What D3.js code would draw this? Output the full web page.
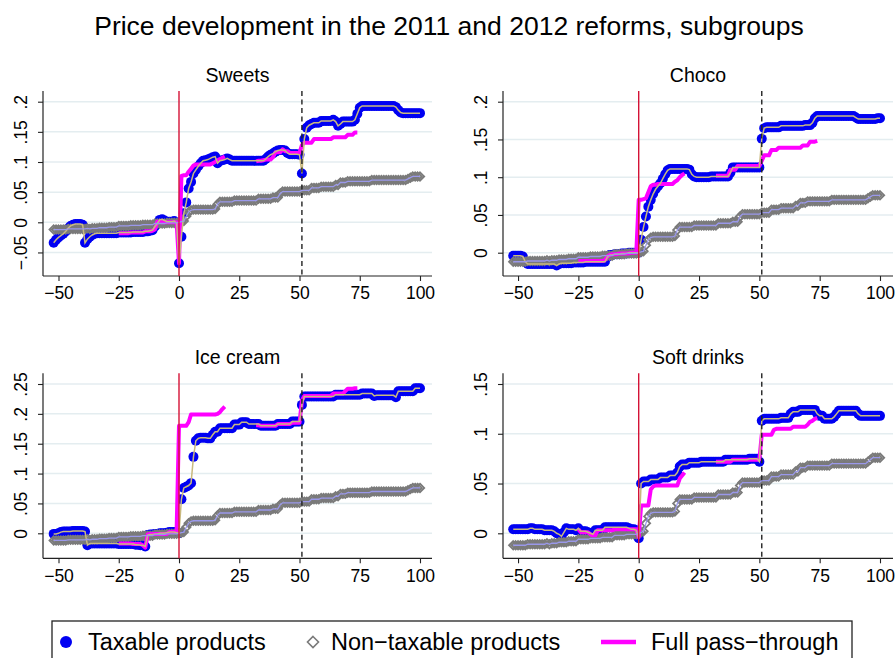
<!DOCTYPE html>
<html>
<head>
<meta charset="utf-8">
<script src="https://cdn.jsdelivr.net/npm/d3@7"></script>
<style>
  body { margin: 0; background: #fff; }
  svg { display: block; }
  text { font-family: "Liberation Sans", Arial, Helvetica, sans-serif; fill: #000; }
</style>
</head>
<body>
<svg id="chart" width="896" height="658"></svg>
<script>
// Weekly price changes (log points) relative to the week before the 2011 reform.
const firstWeek = -52;                 // first week of every series
const reformWeeks = [0, 51];           // 2011 reform (solid) and 2012 reform (dashed)
const passStartWeeks = [-25, 32];      // first week of each full pass-through window
const xTicks = [-50, -25, 0, 25, 50, 75, 100];

// Non-taxable products: the same control series in every panel, weeks -52..100
const nonTaxable = [
  -0.012,-0.012,-0.012,-0.012,-0.012,-0.012,-0.011,-0.011,-0.011,-0.011,
  -0.011,-0.011,-0.011,-0.011,-0.010,-0.011,-0.010,-0.010,-0.010,-0.009,
  -0.009,-0.009,-0.009,-0.008,-0.008,-0.008,-0.008,-0.006,-0.006,-0.006,
  -0.006,-0.006,-0.005,-0.005,-0.005,-0.005,-0.005,-0.004,-0.004,-0.004,
  -0.004,-0.004,-0.002,-0.002,-0.002,-0.002,-0.002,-0.001,-0.001,-0.001,
  -0.001,-0.001,0.000,0.001,0.002,0.010,0.017,0.020,0.021,0.021,
  0.021,0.021,0.021,0.021,0.021,0.021,0.021,0.022,0.030,0.034,
  0.034,0.034,0.034,0.034,0.034,0.036,0.036,0.036,0.036,0.036,
  0.036,0.036,0.036,0.036,0.036,0.039,0.039,0.039,0.039,0.039,
  0.039,0.041,0.041,0.041,0.048,0.051,0.051,0.051,0.051,0.051,
  0.051,0.051,0.051,0.053,0.053,0.053,0.053,0.057,0.057,0.057,
  0.057,0.059,0.059,0.059,0.059,0.059,0.059,0.062,0.062,0.066,
  0.066,0.066,0.068,0.068,0.068,0.068,0.068,0.068,0.068,0.068,
  0.068,0.068,0.070,0.070,0.070,0.070,0.070,0.070,0.070,0.070,
  0.070,0.070,0.070,0.070,0.070,0.070,0.070,0.072,0.074,0.076,
  0.076,0.076,0.076
];

// Taxable products, weeks -52..100
const sweetsTaxable = [
  -0.034,-0.029,-0.025,-0.022,-0.019,-0.015,-0.010,-0.006,-0.004,-0.003,
  -0.003,-0.003,-0.004,-0.034,-0.028,-0.024,-0.021,-0.019,-0.018,-0.018,
  -0.018,-0.018,-0.018,-0.018,-0.018,-0.018,-0.018,-0.017,-0.017,-0.017,
  -0.017,-0.017,-0.017,-0.016,-0.016,-0.016,-0.016,-0.016,-0.015,-0.015,
  -0.014,-0.013,-0.007,-0.002,0.004,0.005,0.003,0.001,0.001,0.001,
  0.002,-0.001,-0.068,-0.024,0.015,0.033,0.056,0.067,0.081,0.087,
  0.093,0.098,0.102,0.103,0.104,0.106,0.108,0.109,0.098,0.102,
  0.103,0.104,0.106,0.104,0.102,0.102,0.102,0.102,0.102,0.102,
  0.102,0.102,0.102,0.102,0.102,0.102,0.102,0.102,0.105,0.109,
  0.112,0.114,0.117,0.119,0.120,0.120,0.119,0.115,0.113,0.113,
  0.113,0.113,0.112,0.081,0.138,0.157,0.161,0.163,0.165,0.165,
  0.165,0.168,0.168,0.168,0.168,0.168,0.170,0.167,0.160,0.163,
  0.167,0.167,0.167,0.167,0.167,0.170,0.180,0.190,0.193,0.193,
  0.193,0.193,0.193,0.193,0.193,0.193,0.193,0.193,0.193,0.193,
  0.193,0.193,0.191,0.186,0.182,0.181,0.181,0.181,0.181,0.181,
  0.181,0.181,0.181
];
const chocoTaxable = [
  -0.004,-0.004,-0.004,-0.004,-0.005,-0.012,-0.015,-0.015,-0.015,-0.015,
  -0.015,-0.015,-0.015,-0.015,-0.015,-0.015,-0.015,-0.015,-0.017,-0.015,
  -0.014,-0.014,-0.014,-0.014,-0.014,-0.013,-0.013,-0.013,-0.013,-0.013,
  -0.012,-0.012,-0.012,-0.012,-0.012,-0.012,-0.012,-0.012,-0.012,-0.006,
  -0.003,-0.003,-0.002,-0.002,-0.002,-0.001,-0.001,-0.001,0.000,0.000,
  0.000,0.000,0.000,0.017,0.034,0.048,0.061,0.070,0.078,0.084,
  0.088,0.092,0.098,0.104,0.109,0.111,0.111,0.111,0.111,0.111,
  0.111,0.111,0.111,0.110,0.104,0.101,0.100,0.100,0.100,0.100,
  0.100,0.100,0.101,0.101,0.101,0.101,0.101,0.101,0.101,0.101,
  0.106,0.113,0.113,0.113,0.113,0.113,0.113,0.113,0.113,0.113,
  0.113,0.113,0.113,0.151,0.165,0.166,0.166,0.166,0.166,0.166,
  0.166,0.168,0.168,0.168,0.168,0.168,0.168,0.168,0.168,0.168,
  0.168,0.169,0.169,0.169,0.172,0.178,0.181,0.181,0.181,0.181,
  0.181,0.181,0.181,0.181,0.181,0.181,0.181,0.181,0.181,0.181,
  0.181,0.181,0.179,0.177,0.177,0.177,0.177,0.177,0.177,0.177,
  0.177,0.178,0.178
];
const iceTaxable = [
  -0.001,-0.001,0.000,0.002,0.003,0.003,0.003,0.003,0.004,0.004,
  0.004,0.004,0.004,0.003,-0.020,-0.017,-0.017,-0.017,-0.017,-0.017,
  -0.017,-0.017,-0.017,-0.017,-0.017,-0.017,-0.017,-0.018,-0.018,-0.018,
  -0.018,-0.018,-0.018,-0.018,-0.019,-0.019,-0.020,-0.020,-0.022,-0.003,
  -0.002,-0.002,-0.001,-0.001,0.000,0.000,0.000,0.001,0.002,0.002,
  0.002,0.001,0.000,0.057,0.076,0.078,0.080,0.084,0.128,0.155,
  0.159,0.160,0.160,0.160,0.159,0.159,0.165,0.170,0.170,0.176,
  0.176,0.176,0.176,0.176,0.176,0.182,0.182,0.182,0.186,0.186,
  0.186,0.183,0.183,0.183,0.183,0.183,0.180,0.180,0.180,0.180,
  0.180,0.180,0.180,0.183,0.183,0.183,0.183,0.183,0.183,0.187,
  0.187,0.187,0.187,0.215,0.229,0.229,0.229,0.229,0.229,0.229,
  0.229,0.229,0.229,0.229,0.229,0.229,0.229,0.232,0.232,0.232,
  0.232,0.232,0.232,0.232,0.232,0.232,0.232,0.232,0.234,0.234,
  0.234,0.234,0.234,0.230,0.231,0.231,0.231,0.231,0.231,0.231,
  0.231,0.231,0.228,0.238,0.238,0.238,0.238,0.238,0.238,0.238,
  0.243,0.243,0.243
];
const softTaxable = [
  0.004,0.004,0.004,0.004,0.004,0.004,0.004,0.005,0.005,0.004,
  0.004,0.004,0.004,0.003,0.003,0.003,0.003,0.002,0.000,-0.001,
  -0.003,0.001,0.005,0.004,0.004,0.004,0.003,0.005,0.002,0.002,
  0.002,0.001,0.000,-0.001,0.003,0.003,0.003,0.003,0.006,0.006,
  0.006,0.006,0.006,0.006,0.006,0.006,0.006,0.006,0.005,0.004,
  0.004,0.003,-0.005,0.050,0.052,0.052,0.052,0.054,0.054,0.054,
  0.054,0.056,0.056,0.056,0.056,0.058,0.058,0.058,0.061,0.067,
  0.069,0.069,0.069,0.071,0.071,0.071,0.071,0.071,0.072,0.072,
  0.072,0.072,0.072,0.072,0.072,0.072,0.072,0.072,0.074,0.074,
  0.074,0.074,0.074,0.074,0.074,0.074,0.074,0.074,0.075,0.075,
  0.075,0.075,0.072,0.113,0.115,0.115,0.115,0.115,0.115,0.115,
  0.115,0.116,0.116,0.116,0.116,0.120,0.122,0.122,0.122,0.124,
  0.124,0.124,0.124,0.124,0.124,0.124,0.120,0.118,0.118,0.115,
  0.115,0.115,0.115,0.117,0.120,0.123,0.123,0.123,0.123,0.123,
  0.123,0.123,0.123,0.120,0.118,0.118,0.118,0.118,0.118,0.118,
  0.118,0.118,0.118
];

// Full pass-through: first window weeks -25..19, second window weeks 32..74
const sweetsPassFirst = [
  -0.018,-0.018,-0.018,-0.018,-0.018,-0.017,-0.017,-0.017,-0.017,-0.017,
  -0.017,-0.015,-0.015,-0.015,-0.014,-0.012,0.001,0.001,0.000,0.000,
  0.000,0.000,0.000,0.000,0.000,-0.068,0.077,0.078,0.078,0.084,
  0.089,0.094,0.096,0.096,0.096,0.096,0.096,0.096,0.096,0.098,
  0.100,0.103,0.105,0.107,0.109
];
const sweetsPassSecond = [
  0.101,0.102,0.102,0.103,0.104,0.104,0.104,0.108,0.116,0.116,
  0.116,0.121,0.118,0.118,0.115,0.115,0.115,0.115,0.115,0.128,
  0.132,0.132,0.132,0.132,0.138,0.138,0.138,0.138,0.138,0.138,
  0.138,0.138,0.141,0.141,0.141,0.141,0.141,0.141,0.145,0.145,
  0.145,0.149,0.149
];
const chocoPassFirst = [
  -0.011,-0.011,-0.011,-0.011,-0.011,-0.011,-0.011,-0.011,-0.011,-0.011,
  -0.011,-0.010,-0.005,-0.003,-0.002,-0.002,-0.002,-0.001,-0.001,-0.001,
  -0.001,-0.001,0.000,0.000,0.000,0.070,0.070,0.071,0.072,0.080,
  0.088,0.090,0.090,0.091,0.091,0.091,0.091,0.091,0.091,0.091,
  0.094,0.096,0.100,0.103,0.105
];
const chocoPassSecond = [
  0.102,0.102,0.102,0.102,0.102,0.102,0.110,0.110,0.110,0.115,
  0.115,0.115,0.115,0.115,0.115,0.115,0.115,0.115,0.115,0.122,
  0.129,0.129,0.129,0.136,0.136,0.136,0.139,0.139,0.139,0.139,
  0.139,0.139,0.139,0.139,0.139,0.139,0.142,0.142,0.142,0.147,
  0.147,0.147,0.148
];
const icePassFirst = [
  -0.017,-0.017,-0.017,-0.017,-0.017,-0.017,-0.018,-0.018,-0.018,-0.018,
  -0.020,-0.024,-0.002,-0.001,-0.001,-0.001,-0.001,-0.001,-0.001,-0.001,
  -0.001,0.002,0.002,0.002,0.002,0.180,0.180,0.180,0.180,0.186,
  0.199,0.199,0.199,0.199,0.199,0.199,0.199,0.199,0.199,0.199,
  0.199,0.200,0.203,0.208,0.212
];
const icePassSecond = [
  0.181,0.181,0.180,0.180,0.180,0.180,0.180,0.180,0.180,0.183,
  0.183,0.183,0.183,0.183,0.183,0.185,0.185,0.185,0.185,0.222,
  0.230,0.230,0.230,0.230,0.230,0.230,0.230,0.230,0.230,0.230,
  0.230,0.230,0.234,0.234,0.234,0.234,0.234,0.238,0.242,0.242,
  0.242,0.243,0.243
];
const softPassFirst = [
  0.004,0.001,0.001,0.001,0.001,-0.001,-0.002,-0.002,0.003,0.003,
  0.003,0.003,0.003,0.003,0.003,0.004,0.004,0.004,0.004,0.004,
  0.004,0.004,0.004,0.004,0.004,-0.004,0.028,0.028,0.028,0.028,
  0.044,0.047,0.048,0.048,0.048,0.048,0.048,0.048,0.048,0.048,
  0.048,0.048,0.055,0.058,0.061
];
const softPassSecond = [
  0.072,0.072,0.072,0.072,0.072,0.072,0.072,0.074,0.074,0.074,
  0.074,0.074,0.074,0.074,0.074,0.074,0.074,0.074,0.074,0.099,
  0.099,0.099,0.099,0.099,0.104,0.105,0.105,0.105,0.105,0.105,
  0.105,0.105,0.107,0.107,0.107,0.107,0.107,0.107,0.109,0.112,
  0.113,0.115,0.116
];

const panelTitles = ["Sweets", "Choco", "Ice cream", "Soft drinks"];
const panelYTicks = [
  [-0.05, 0, 0.05, 0.1, 0.15, 0.2],
  [0, 0.05, 0.1, 0.15, 0.2],
  [0, 0.05, 0.1, 0.15, 0.2, 0.25],
  [0, 0.05, 0.1, 0.15]
];
const legendLabels = ["Taxable products", "Non\u2212taxable products", "Full pass\u2212through"];

// ---- drawing ----
const colors = {
  taxable: "#0000f2",
  taxableLine: "#c9b97f",
  nonTaxable: "#7a7a7a",
  nonTaxableLine: "#9a98ea",
  pass: "#ff00ff",
  reform: "#d41236",
  axis: "#222",
  grid: "#e4edf0"
};

const svg = d3.select("#chart");

const panels = [
  { title: panelTitles[0], taxable: sweetsTaxable, pass: [sweetsPassFirst, sweetsPassSecond], ticks: panelYTicks[0],
    box: [43, 432, 91, 276], xr: [179, 420], yd: [0, 0.2], yr: [222.3, 101.7] },
  { title: panelTitles[1], taxable: chocoTaxable, pass: [chocoPassFirst, chocoPassSecond], ticks: panelYTicks[1],
    box: [503, 893, 91, 276], xr: [638.7, 880], yd: [0, 0.2], yr: [252.7, 101.7] },
  { title: panelTitles[2], taxable: iceTaxable, pass: [icePassFirst, icePassSecond], ticks: panelYTicks[2],
    box: [43, 432, 373.3, 558.3], xr: [179, 420], yd: [0, 0.25], yr: [533.3, 384] },
  { title: panelTitles[3], taxable: softTaxable, pass: [softPassFirst, softPassSecond], ticks: panelYTicks[3],
    box: [503, 893, 373.3, 558.3], xr: [638.7, 880], yd: [0, 0.15], yr: [533.3, 384] }
];

const fmtY = v => v === 0 ? "0" : (v < 0 ? "\u2212" : "") + String(+Math.abs(v).toFixed(3)).replace(/^0/, "");
const fmtX = v => (v < 0 ? "\u2212" : "") + Math.abs(v);
const diamond = r => `M0,${-r}L${r},0L0,${r}L${-r},0Z`;

svg.append("text")
  .attr("x", 449).attr("y", 35)
  .attr("text-anchor", "middle")
  .style("font-size", "26.5px")
  .text("Price development in the 2011 and 2012 reforms, subgroups");

panels.forEach(p => {
  const [left, right, top, bottom] = p.box;
  const x = d3.scaleLinear().domain([0, 100]).range(p.xr);
  const y = d3.scaleLinear().domain(p.yd).range(p.yr);
  const g = svg.append("g");

  // horizontal grid
  g.selectAll("line.grid").data(p.ticks).join("line")
    .attr("x1", left).attr("x2", right)
    .attr("y1", d => y(d)).attr("y2", d => y(d))
    .attr("stroke", colors.grid).attr("stroke-width", 1.5);

  // axes
  const xAxis = g.append("g").attr("transform", `translate(0,${bottom})`)
    .call(d3.axisBottom(x).tickValues(xTicks).tickFormat(fmtX).tickSize(5).tickPadding(6));
  const yAxis = g.append("g").attr("transform", `translate(${left},0)`)
    .call(d3.axisLeft(y).tickValues(p.ticks).tickFormat(fmtY).tickSize(5));
  [xAxis, yAxis].forEach(a => {
    a.select(".domain").remove();
    a.selectAll(".tick line").attr("stroke", colors.axis).attr("stroke-width", 1.1);
    a.selectAll(".tick text").style("font-size", "17.5px").attr("fill", "#000");
  });
  yAxis.selectAll(".tick text")
    .attr("transform", "rotate(-90)")
    .attr("text-anchor", "middle")
    .attr("x", 0).attr("y", -16).attr("dy", 0);

  g.append("line").attr("x1", left).attr("x2", left).attr("y1", top).attr("y2", bottom)
    .attr("stroke", colors.axis).attr("stroke-width", 1.2);
  g.append("line").attr("x1", left).attr("x2", right).attr("y1", bottom).attr("y2", bottom)
    .attr("stroke", colors.axis).attr("stroke-width", 1.2);

  // panel title
  g.append("text").attr("x", (left + right) / 2).attr("y", top - 9.5)
    .attr("text-anchor", "middle").style("font-size", "19.5px").text(p.title);

  const wk = i => firstWeek + i;
  const tax = p.taxable.map((v, i) => [wk(i), v]);
  const non = nonTaxable.map((v, i) => [wk(i), v]);

  // taxable markers
  g.append("g").selectAll("circle").data(tax).join("circle")
    .attr("cx", d => x(d[0])).attr("cy", d => y(d[1])).attr("r", 5)
    .attr("fill", colors.taxable);

  // non-taxable hollow diamonds
  g.append("g").selectAll("path").data(non).join("path")
    .attr("transform", d => `translate(${x(d[0])},${y(d[1])})`)
    .attr("d", diamond(4.2))
    .attr("fill", "none").attr("stroke", colors.nonTaxable).attr("stroke-width", 1.8);

  const line = d3.line().x(d => x(d[0])).y(d => y(d[1]));

  // full pass-through, two windows
  p.pass.forEach((arr, k) => {
    g.append("path")
      .attr("d", line(arr.map((v, i) => [passStartWeeks[k] + i, v])))
      .attr("fill", "none").attr("stroke", colors.pass).attr("stroke-width", 4)
      .attr("stroke-linejoin", "round");
  });

  // connecting lines
  g.append("path").attr("d", line(tax)).attr("fill", "none")
    .attr("stroke", colors.taxableLine).attr("stroke-width", 1.5);
  g.append("path").attr("d", line(non)).attr("fill", "none")
    .attr("stroke", colors.nonTaxableLine).attr("stroke-width", 1.3);

  // reform weeks
  g.append("line").attr("x1", x(reformWeeks[0])).attr("x2", x(reformWeeks[0]))
    .attr("y1", top).attr("y2", bottom)
    .attr("stroke", colors.reform).attr("stroke-width", 1.4);
  g.append("line").attr("x1", x(reformWeeks[1])).attr("x2", x(reformWeeks[1]))
    .attr("y1", top).attr("y2", bottom)
    .attr("stroke", "#222").attr("stroke-width", 1.4).attr("stroke-dasharray", "5,3.5");
});

// legend
const lg = svg.append("g");
lg.append("rect").attr("x", 52).attr("y", 621).attr("width", 800).attr("height", 60)
  .attr("fill", "#fff").attr("stroke", "#222").attr("stroke-width", 1.3);
lg.append("circle").attr("cx", 66).attr("cy", 642).attr("r", 6).attr("fill", colors.taxable);
lg.append("path").attr("transform", "translate(313,642)").attr("d", diamond(5.5))
  .attr("fill", "none").attr("stroke", colors.nonTaxable).attr("stroke-width", 1.6);
lg.append("line").attr("x1", 601).attr("x2", 636).attr("y1", 642).attr("y2", 642)
  .attr("stroke", colors.pass).attr("stroke-width", 4.5);
[[88, legendLabels[0]], [331, legendLabels[1]], [651, legendLabels[2]]].forEach(([lx, t]) => {
  lg.append("text").attr("x", lx).attr("y", 650).style("font-size", "23.5px").text(t);
});
</script>
</body>
</html>
